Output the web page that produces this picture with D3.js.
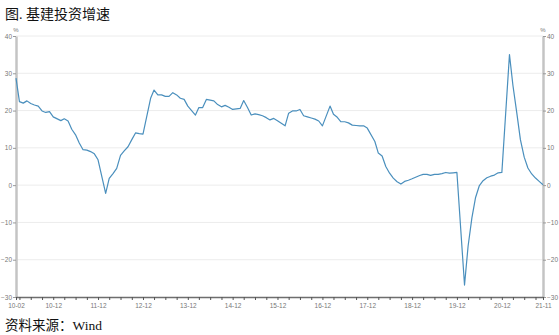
<!DOCTYPE html>
<html>
<head>
<meta charset="utf-8">
<script src="https://cdn.jsdelivr.net/npm/d3@7"></script>
<style>
    body { margin: 0; background: #fff; }
    svg { display: block; }
</style>
</head>
<body>
<svg id="chart" width="559" height="335"></svg>
<script>

/* ------------------------------
   DATA (cumulative YoY %, Feb-Dec each year, no January print)
------------------------------ */

const years = [2010, 2011, 2012, 2013, 2014, 2015, 2016, 2017, 2018, 2019, 2020, 2021];

const growth2010 = [28.7, 22.4, 22.0, 22.6, 21.9, 21.5, 21.2, 19.9, 19.5, 19.7, 18.3];
const growth2011 = [17.3, 17.8, 17.2, 15.0, 13.5, 11.3, 9.5, 9.4, 9.0, 8.4, 6.8];
const growth2012 = [-2.2, 1.8, 3.1, 4.5, 8.0, 9.2, 10.3, 12.2, 14.0, 13.8, 13.7];
const growth2013 = [23.3, 25.5, 24.2, 24.2, 23.8, 23.8, 24.8, 24.2, 23.3, 23.0, 21.2];
const growth2014 = [18.8, 20.8, 20.8, 23.0, 22.8, 22.6, 21.6, 21.0, 21.4, 20.9, 20.3];
const growth2015 = [20.6, 22.7, 20.8, 18.8, 19.1, 18.9, 18.6, 18.1, 17.5, 17.9, 17.3];
const growth2016 = [15.9, 19.3, 19.9, 19.9, 20.3, 18.6, 18.3, 18.0, 17.7, 17.2, 15.9];
const growth2017 = [21.2, 19.0, 18.2, 17.0, 17.0, 16.7, 16.1, 16.0, 15.9, 15.9, 15.3];
const growth2018 = [11.7, 8.6, 7.8, 5.0, 3.2, 1.9, 0.9, 0.3, 1.0, 1.3, 1.7];
const growth2019 = [2.6, 2.9, 2.9, 2.6, 2.9, 2.9, 3.1, 3.4, 3.2, 3.3, 3.4];
const growth2020 = [-26.8, -16.4, -8.8, -3.3, -0.1, 1.2, 2.0, 2.4, 2.7, 3.3, 3.4];
const growth2021 = [35.0, 26.8, 19.5, 12.2, 7.5, 4.6, 3.0, 1.9, 1.0, 0.1];

const yTicks = [-30, -20, -10, 0, 10, 20, 30, 40];

const xLabels = ["10-02", "10-12", "11-12", "12-12", "13-12", "14-12", "15-12",
                 "16-12", "17-12", "18-12", "19-12", "20-12", "21-11"];

const titleText = "图. 基建投资增速";
const sourceText = "资料来源：Wind";


/* ------------------------------
   BUILD SERIES
------------------------------ */

const yearly = [growth2010, growth2011, growth2012, growth2013, growth2014, growth2015,
                growth2016, growth2017, growth2018, growth2019, growth2020, growth2021];

const series = [];
years.forEach(function (yr, i) {
    yearly[i].forEach(function (v, j) {
        // first value of each year is the Jan-Feb print (month index 1)
        series.push({ date: new Date(yr, j + 1, 1), value: v });
    });
});

const labelFmt = d3.timeFormat("%y-%m");
const parseLabel = d3.timeParse("%y-%m");
const labelDates = xLabels.map(parseLabel);


/* ------------------------------
   LAYOUT
------------------------------ */

const svg = d3.select("#chart");

const plotLeft = 16, plotRight = 543, plotTop = 36, plotBottom = 297;

const x = d3.scaleTime()
    .domain([series[0].date, series[series.length - 1].date])
    .range([plotLeft, plotRight]);

const y = d3.scaleLinear()
    .domain([-30, 40])
    .range([plotBottom, plotTop]);

const axisFont = "'Liberation Sans', Arial, sans-serif";
const cjkFont = "'Liberation Serif', 'Noto Sans CJK SC', serif";


/* ------------------------------
   GRID
------------------------------ */

svg.append("g")
    .selectAll("line")
    .data(yTicks.filter(d => d > -30))
    .enter()
    .append("line")
    .attr("x1", plotLeft)
    .attr("x2", plotRight)
    .attr("y1", d => y(d))
    .attr("y2", d => y(d))
    .style("stroke", "#ececec")
    .style("stroke-width", 1);


/* ------------------------------
   AXES
------------------------------ */

function styleValueAxis(g) {
    g.select(".domain")
        .style("stroke", "#c4c4c4")
        .style("stroke-width", 2.5);
    g.selectAll(".tick line").style("stroke", "#999");
    g.selectAll(".tick text")
        .style("font-family", axisFont)
        .style("font-size", "6.5px")
        .style("fill", "#777");
}

svg.append("g")
    .attr("transform", "translate(" + plotLeft + ",0)")
    .call(d3.axisLeft(y).tickValues(yTicks).tickSize(3).tickPadding(1).tickSizeOuter(0))
    .call(styleValueAxis);

svg.append("g")
    .attr("transform", "translate(" + plotRight + ",0)")
    .call(d3.axisRight(y).tickValues(yTicks).tickSize(3).tickPadding(1).tickSizeOuter(0))
    .call(styleValueAxis);

// quarterly minor ticks (skipping the labelled months) plus the labelled months
const quarterTicks = d3.timeMonth.range(new Date(2010, 2, 1), new Date(2021, 10, 1), 3)
    .filter(d => xLabels.indexOf(labelFmt(d)) < 0);
const allTicks = quarterTicks.concat(labelDates);

const xAxis = svg.append("g")
    .attr("transform", "translate(0," + plotBottom + ")")
    .call(d3.axisBottom(x)
        .tickValues(allTicks)
        .tickSize(3)
        .tickSizeOuter(0)
        .tickPadding(3)
        .tickFormat(d => xLabels.indexOf(labelFmt(d)) >= 0 ? labelFmt(d) : ""));

xAxis.select(".domain")
    .style("stroke", "#6e6e6e")
    .style("stroke-width", 1.5);
xAxis.selectAll(".tick line").style("stroke", "#555");
xAxis.selectAll(".tick text")
    .style("font-family", axisFont)
    .style("font-size", "6.5px")
    .style("fill", "#777");

// unit marks above both value axes
svg.selectAll(".unit")
    .data([plotLeft, plotRight])
    .enter()
    .append("text")
    .attr("class", "unit")
    .attr("x", d => d)
    .attr("y", plotTop - 4)
    .attr("text-anchor", "middle")
    .style("font-family", axisFont)
    .style("font-size", "6px")
    .style("fill", "#777")
    .text("%");


/* ------------------------------
   LINE
------------------------------ */

const line = d3.line()
    .x(d => x(d.date))
    .y(d => y(d.value));

svg.append("path")
    .datum(series)
    .attr("d", line)
    .style("fill", "none")
    .style("stroke", "#4a8fbd")
    .style("stroke-width", 1.2)
    .style("stroke-linejoin", "round");


/* ------------------------------
   TEXTS
------------------------------ */

svg.append("text")
    .attr("x", 5)
    .attr("y", 19)
    .style("font-family", cjkFont)
    .style("font-size", "14px")
    .style("fill", "#111")
    .text(titleText);

svg.append("text")
    .attr("x", 5)
    .attr("y", 330)
    .style("font-family", cjkFont)
    .style("font-size", "13.5px")
    .style("fill", "#111")
    .text(sourceText);

</script>
</body>
</html>
